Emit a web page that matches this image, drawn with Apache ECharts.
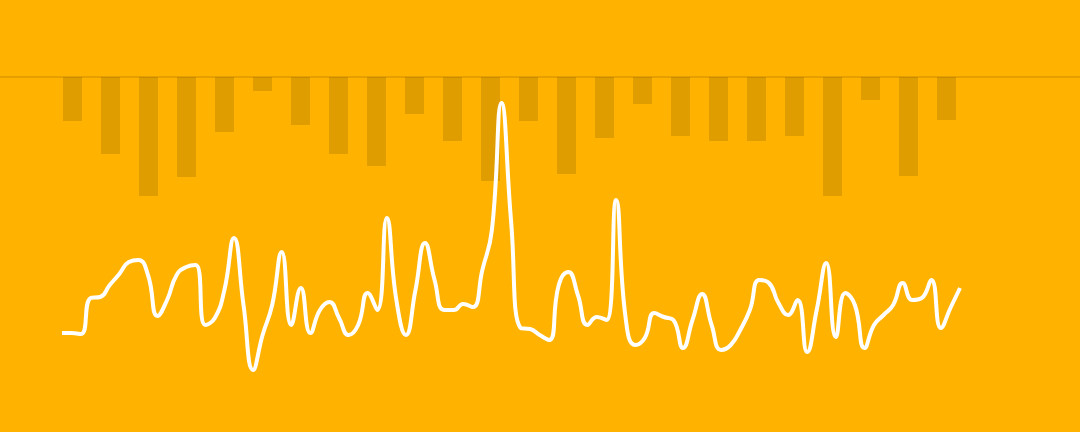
<!DOCTYPE html>
<html>
<head>
<meta charset="utf-8">
<script src="https://cdn.jsdelivr.net/npm/echarts@6/dist/echarts.min.js"></script>
<style>
html,body{margin:0;padding:0;background:#FFB300;}
#c{width:1080px;height:432px;}
</style>
</head>
<body>
<div id="c"></div>
<script>
// Bar categories and values (bars hang down from the top baseline)
const barCategories = Array.from({length: 24}, (_, i) => String(i + 1));
const barValues = [44, 77, 119, 100, 55, 14, 48, 77, 89, 37, 64, 104, 44, 97, 61, 27, 59, 64, 64, 59, 119, 23, 99, 43];

// Line categories and values
const lineCategories = Array.from({length: 95}, (_, i) => String(i + 1));
const lineValues = [
  67, 67, 66, 102, 103, 115, 126, 138, 140, 125,
  84, 100, 125, 133, 135, 75, 82, 110, 162, 95,
  30, 65, 95, 148, 75, 112, 67, 90, 98, 82,
  65, 75, 107, 90, 182, 100, 65, 110, 157, 120,
  90, 90, 96, 93, 130, 170, 297, 180, 72, 71,
  65, 60, 115, 128, 105, 75, 83, 80, 200, 82,
  55, 62, 87, 83, 80, 52, 80, 106, 75, 50,
  55, 70, 90, 120, 117, 97, 85, 100, 48, 90,
  137, 63, 107, 95, 52, 75, 85, 95, 117, 100,
  102, 120, 72, 92, 112
];

const chart = echarts.init(document.getElementById('c'));
chart.setOption({
  backgroundColor: '#FFB300',
  animation: false,
  grid: [
    {left: 53.5, width: 912, top: 77, height: 200},
    {left: 62, width: 898, top: 0, height: 400},
    {left: 0, right: 0, top: 77, height: 100}
  ],
  xAxis: [
    {gridIndex: 0, type: 'category', data: barCategories, position: 'top',
      axisLine: {show: false}, axisTick: {show: false}, axisLabel: {show: false}, splitLine: {show: false}},
    {gridIndex: 1, type: 'category', data: lineCategories, boundaryGap: false,
      axisLine: {show: false}, axisTick: {show: false}, axisLabel: {show: false}, splitLine: {show: false}},
    {gridIndex: 2, type: 'value', min: 0, max: 1, position: 'top',
      axisLine: {show: true, onZero: false, lineStyle: {color: 'rgba(0,0,0,0.1)', width: 2}},
      axisTick: {show: false}, axisLabel: {show: false}, splitLine: {show: false}}
  ],
  yAxis: [
    {gridIndex: 0, type: 'value', inverse: true, min: 0, max: 200,
      axisLine: {show: false}, axisTick: {show: false}, axisLabel: {show: false}, splitLine: {show: false}},
    {gridIndex: 1, type: 'value', min: 0, max: 400,
      axisLine: {show: false}, axisTick: {show: false}, axisLabel: {show: false}, splitLine: {show: false}},
    {gridIndex: 2, type: 'value', min: 0, max: 1, show: false}
  ],
  series: [
    {type: 'bar', xAxisIndex: 0, yAxisIndex: 0, data: barValues, barWidth: 19,
      itemStyle: {color: 'rgba(0,0,0,0.12)'}, silent: true},
    {type: 'line', xAxisIndex: 1, yAxisIndex: 1, data: lineValues, smooth: true,
      showSymbol: false, symbol: 'none',
      lineStyle: {color: '#ffffff', width: 4}, silent: true}
  ]
});
</script>
</body>
</html>
